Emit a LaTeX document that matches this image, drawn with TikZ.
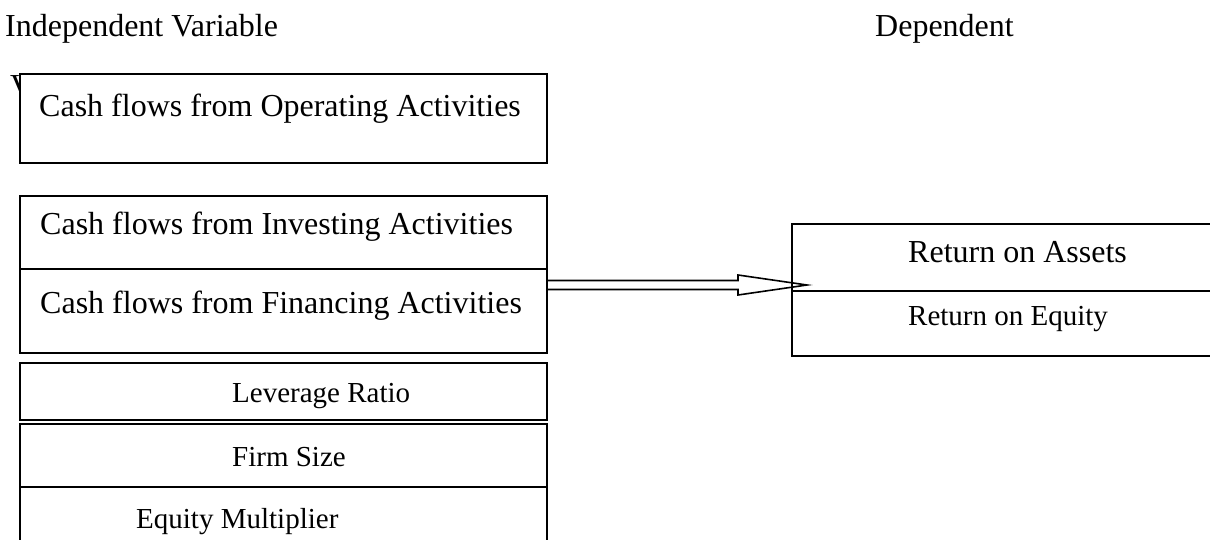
\documentclass[tikz,border=0pt]{standalone}
\usepackage{fontspec}
\setmainfont{Liberation Serif}
\usetikzlibrary{calc}
\begin{document}
\begin{tikzpicture}[x=1pt,y=-1pt,
  box/.style={draw, line width=1.6pt, fill=white, inner sep=0pt, anchor=north west},
  big/.style={font=\fontsize{32}{38}\selectfont, inner sep=0pt, anchor=base west},
  small/.style={font=\fontsize{29}{35}\selectfont, inner sep=0pt, anchor=base west},
  ttl/.style={font=\fontsize{32}{38}\selectfont, inner sep=0pt, anchor=base west},
  blockarrow/.style={draw, line width=1.6pt, line join=miter}
]
\useasboundingbox (0,0) rectangle (1210,540);
\clip (0,0) rectangle (1210,540);

% titles
\node[ttl] (indep) at (5,37) {Independent Variable};
\node[ttl] (dep) at (875,37) {Dependent};
\node[big] (vpart) at (10,97) {V};

% left column boxes
\node[box, minimum width=527pt, minimum height=89pt] (op) at (19,73) {};
\node[big] (optxt) at (39,117) {Cash flows from Operating Activities};

\node[box, minimum width=527pt, minimum height=73pt] (inv) at (19,195) {};
\node[big] (invtxt) at (40,235) {Cash flows from Investing Activities};

\node[box, minimum width=527pt, minimum height=84pt] (fin) at (19,268) {};
\node[big] (fintxt) at (40,313) {Cash flows from Financing Activities};

\node[box, minimum width=527pt, minimum height=57pt] (lev) at (19,362) {};
\node[small] (levtxt) at (232,402) {Leverage Ratio};

\node[box, minimum width=527pt, minimum height=63pt] (firm) at (19,423) {};
\node[small] (firmtxt) at (232,466) {Firm Size};

\node[box, minimum width=527pt, minimum height=80pt] (eq) at (19,486) {};
\node[small] (eqtxt) at (136,528) {Equity Multiplier};

% right boxes
\node[box, minimum width=440pt, minimum height=67pt] (roa) at (791,223) {};
\node[big] (roatxt) at (908,262) {Return on Assets};
\node[box, minimum width=440pt, minimum height=65pt] (roe) at (791,290) {};
\node[small] (roetxt) at (908,325) {Return on Equity};

% block arrow from the financing box to the return box
\coordinate (as) at (fin.east |- 0,285);
\coordinate (ae) at (807,285);
\draw[blockarrow]
  ($(as)+(0,-4.5)$) -- ($(ae)+(-69,-4.5)$) -- ($(ae)+(-69,-10)$) -- (ae)
  -- ($(ae)+(-69,10)$) -- ($(ae)+(-69,4.5)$) -- ($(as)+(0,4.5)$);
\end{tikzpicture}
\end{document}
